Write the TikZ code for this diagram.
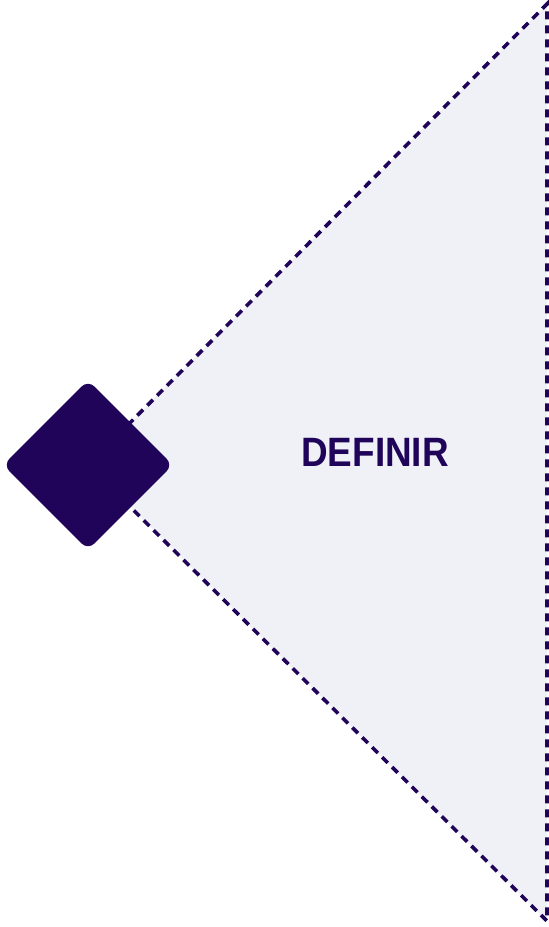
\documentclass[tikz,border=0pt]{standalone}
\usepackage{fontspec}
\setmainfont{Liberation Sans}
\usetikzlibrary{shapes.geometric}
\definecolor{deep}{HTML}{1F0459}
\definecolor{pale}{HTML}{F0F1F7}
\tikzset{
  edgeline/.style={draw=deep, line width=3.6pt, dash pattern=on 8pt off 6pt},
  mark box/.style={shape=diamond, fill=deep, minimum width=170pt, minimum height=170pt, inner sep=0pt, rounded corners=9pt},
  title/.style={text=deep, font=\bfseries\fontsize{41}{41}\selectfont, xscale=0.9}
}
\begin{document}
\begin{tikzpicture}[x=1pt,y=-1pt]
\useasboundingbox (0,0) rectangle (549,927);
\coordinate (apex) at (88,465);
\coordinate (tr) at (547,4);
\coordinate (br) at (547,921);
\fill[pale] (apex) -- (tr) -- (br) -- cycle;
\draw[edgeline] (apex) -- (tr) -- (br) -- (apex);
\node[mark box] (dia) at (apex) {};
\node[title] (lbl) at (375,452) {DEFINIR};
\end{tikzpicture}
\end{document}
